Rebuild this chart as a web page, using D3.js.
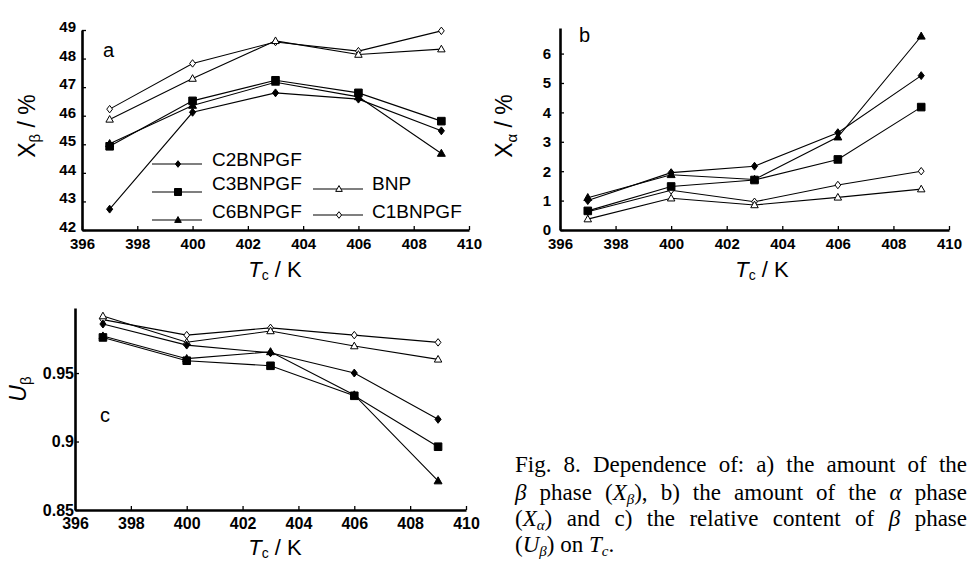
<!DOCTYPE html>
<html><head><meta charset="utf-8">
<script src="https://cdn.jsdelivr.net/npm/d3@7"></script>
<style>body{margin:0;background:#fff}svg{display:block}</style>
</head><body>
<svg id="chart" width="969" height="562"></svg>
<script>
// ---------- data ----------
const temps = [397, 400, 403, 406, 409];
const seriesNames = ["C2BNPGF", "C3BNPGF", "C6BNPGF", "BNP", "C1BNPGF"];
const xTickValues = [396, 398, 400, 402, 404, 406, 408, 410];
const aTickValues = [42, 43, 44, 45, 46, 47, 48, 49];
const bTickValues = [0, 1, 2, 3, 4, 5, 6];
const cTickValues = [0.85, 0.9, 0.95];
const cTickLabels = ["0.85", "0.9", "0.95"];

// panel a: X_beta / %
const xBetaC2 = [42.73, 46.12, 46.80, 46.58, 45.47];
const xBetaC3 = [44.93, 46.52, 47.24, 46.80, 45.81];
const xBetaC6 = [45.02, 46.36, 47.17, 46.66, 44.68];
const xBetaBNP = [45.87, 47.30, 48.62, 48.14, 48.33];
const xBetaC1 = [46.23, 47.83, 48.58, 48.26, 48.97];

// panel b: X_alpha / %
const xAlphaC2 = [1.00, 1.95, 2.17, 3.31, 5.25];
const xAlphaC3 = [0.65, 1.48, 1.70, 2.40, 4.18];
const xAlphaC6 = [1.10, 1.88, 1.72, 3.16, 6.59];
const xAlphaBNP = [0.37, 1.08, 0.85, 1.11, 1.39];
const xAlphaC1 = [0.62, 1.35, 0.96, 1.53, 2.00];

// panel c: U_beta
const uBetaC2 = [0.9858, 0.9704, 0.9648, 0.9500, 0.9162];
const uBetaC3 = [0.9760, 0.9590, 0.9553, 0.9334, 0.8962];
const uBetaC6 = [0.9770, 0.9605, 0.9655, 0.9340, 0.8712];
const uBetaBNP = [0.9916, 0.9725, 0.9807, 0.9697, 0.9600];
const uBetaC1 = [0.9890, 0.9777, 0.9830, 0.9777, 0.9724];

// ---------- helpers ----------
const svg = d3.select("#chart");
const SANS = "'Liberation Sans', Arial, sans-serif";
const SERIF = "'Liberation Serif', 'Times New Roman', serif";

const shapes = {
  C2BNPGF: {shape: "diamond", fill: "#000"},
  C3BNPGF: {shape: "square", fill: "#000"},
  C6BNPGF: {shape: "triangle", fill: "#000"},
  BNP: {shape: "triangle", fill: "#fff"},
  C1BNPGF: {shape: "diamond", fill: "#fff"}
};
function markerPath(shape, s) {
  if (shape === "diamond") return `M0,${-s*1.1}L${s*0.85},0L0,${s*1.1}L${-s*0.85},0Z`;
  if (shape === "square") return `M${-s},${-s}h${2*s}v${2*s}h${-2*s}Z`;
  return `M0,${-s*1.15}L${s*1.1},${s*0.8}L${-s*1.1},${s*0.8}Z`;
}
const drawOrder = ["C1BNPGF", "BNP", "C6BNPGF", "C2BNPGF", "C3BNPGF"];

function drawPanel(cfg) {
  const g = svg.append("g");
  const x = d3.scaleLinear().domain([396, 410]).range(cfg.xRange);
  const y = d3.scaleLinear().domain(cfg.yDomain).range(cfg.yRange);

  const xAxis = d3.axisBottom(x).tickValues(xTickValues).tickSizeInner(-4).tickSizeOuter(0).tickPadding(cfg.xPad).tickFormat(d3.format("d"));
  const gx = g.append("g").attr("transform", `translate(0,${cfg.yRange[0]})`).call(xAxis);
  const yAxis = d3.axisLeft(y).tickValues(cfg.yTicks).tickSizeInner(-4).tickSizeOuter(0).tickPadding(cfg.yPad)
    .tickFormat((d, i) => cfg.yLabels ? cfg.yLabels[i] : d);
  const gy = g.append("g").attr("transform", `translate(${cfg.xRange[0]},0)`).call(yAxis);

  [gx, gy].forEach(a => {
    a.select(".domain").attr("stroke", "#000").attr("stroke-width", 2.6);
    a.selectAll(".tick line").attr("stroke", "#000").attr("stroke-width", 1.3);
    a.selectAll(".tick text").attr("fill", "#000").attr("font-family", SANS)
      .attr("font-weight", "bold").attr("font-size", cfg.tickFont);
  });
  gy.selectAll(".tick text").attr("dy", cfg.yDy);

  const line = d3.line().x((d, i) => x(temps[i])).y(d => y(d));
  drawOrder.forEach(name => {
    const vals = cfg.data[name];
    g.append("path").attr("d", line(vals)).attr("fill", "none")
      .attr("stroke", "#000").attr("stroke-width", 1.1);
  });
  drawOrder.forEach(name => {
    const vals = cfg.data[name];
    const st = shapes[name];
    const s = st.shape === "square" ? 3.8 : (st.fill === "#fff" ? 3.4 : 3.6);
    g.selectAll(null).data(vals).enter().append("path")
      .attr("d", markerPath(st.shape, s))
      .attr("transform", (d, i) => `translate(${x(temps[i])},${y(d)})`)
      .attr("fill", st.fill).attr("stroke", "#000").attr("stroke-width", 1);
  });
  return {g, x, y};
}

// panel a
drawPanel({
  xRange: [82, 469], yDomain: [42, 49], yRange: [230, 30], yTicks: aTickValues,
  xPad: 8, yPad: 6, yDy: "0.1em", tickFont: 15,
  data: {C2BNPGF: xBetaC2, C3BNPGF: xBetaC3, C6BNPGF: xBetaC6, BNP: xBetaBNP, C1BNPGF: xBetaC1}
});
// panel b
drawPanel({
  xRange: [560, 949], yDomain: [0, 6.87], yRange: [230, 28], yTicks: bTickValues,
  xPad: 8, yPad: 9, yDy: "0.32em", tickFont: 15,
  data: {C2BNPGF: xAlphaC2, C3BNPGF: xAlphaC3, C6BNPGF: xAlphaC6, BNP: xAlphaBNP, C1BNPGF: xAlphaC1}
});
// panel c
drawPanel({
  xRange: [75, 466], yDomain: [0.85, 0.9975], yRange: [510, 308], yTicks: cTickValues, yLabels: cTickLabels,
  xPad: 8, yPad: 1, yDy: "0.32em", tickFont: 16,
  data: {C2BNPGF: uBetaC2, C3BNPGF: uBetaC3, C6BNPGF: uBetaC6, BNP: uBetaBNP, C1BNPGF: uBetaC1}
});

// panel letters
[["a", 103, 57], ["b", 579, 42], ["c", 100, 422]].forEach(([t, px, py]) => {
  svg.append("text").attr("x", px).attr("y", py).attr("font-family", SANS)
    .attr("font-size", 20).text(t);
});

// axis titles
function tcTitle(cx, by) {
  const t = svg.append("text").attr("x", cx).attr("y", by).attr("text-anchor", "middle")
    .attr("font-family", SANS).attr("font-size", 22);
  t.append("tspan").attr("font-style", "italic").text("T");
  t.append("tspan").attr("font-size", 14).attr("dy", 3).text("c");
  t.append("tspan").attr("dy", -3).text(" / K");
}
tcTitle(275, 277);
tcTitle(762, 277);
tcTitle(275, 555);

function yTitle(cx, cy, main, sub, rest, italic) {
  const t = svg.append("text").attr("transform", `translate(${cx},${cy}) rotate(-90)`)
    .attr("text-anchor", "middle").attr("font-family", SANS).attr("font-size", 23);
  t.append("tspan").attr("font-style", italic ? "italic" : "normal").text(main);
  t.append("tspan").attr("font-size", 15).attr("dy", 5).text(sub);
  if (rest) t.append("tspan").attr("dy", -5).text(rest);
}
yTitle(35, 126, "X", "β", " / %", false);
yTitle(512, 126, "X", "α", " / %", false);
yTitle(26, 389, "U", "β", null, true);

// legend (panel a)
const legendItems = [
  {name: "C2BNPGF", x1: 152, x2: 202, ly: 164, tx: 212, ty: 166},
  {name: "C3BNPGF", x1: 152, x2: 202, ly: 192, tx: 212, ty: 190},
  {name: "C6BNPGF", x1: 152, x2: 202, ly: 220, tx: 212, ty: 218},
  {name: "BNP", x1: 313, x2: 363, ly: 189, tx: 372, ty: 190},
  {name: "C1BNPGF", x1: 313, x2: 363, ly: 215, tx: 372, ty: 218}
];
legendItems.forEach(it => {
  svg.append("line").attr("x1", it.x1).attr("x2", it.x2).attr("y1", it.ly).attr("y2", it.ly)
    .attr("stroke", "#000").attr("stroke-width", 1.1);
  const st = shapes[it.name];
  svg.append("path").attr("d", markerPath(st.shape, st.shape === "square" ? 3.5 : 3))
    .attr("transform", `translate(${(it.x1 + it.x2) / 2 + 1},${it.ly})`)
    .attr("fill", st.fill).attr("stroke", "#000").attr("stroke-width", 1);
  svg.append("text").attr("x", it.tx).attr("y", it.ty).attr("font-family", SANS)
    .attr("font-size", 19).text(it.name);
});

// caption
const capX = 515, capW = 452;
const captionLines = [
  {y: 472, justify: true, parts: [["Fig. 8. Dependence of: a) the amount of the"]]},
  {y: 500, justify: true, parts: [["β", "i"], [" phase ("], ["X", "i"], ["β", "is"], ["), b) the amount of the "], ["α", "i"], [" phase"]]},
  {y: 526, justify: true, parts: [["("], ["X", "i"], ["α", "is"], [") and c) the relative content of "], ["β", "i"], [" phase"]]},
  {y: 552, justify: false, parts: [["("], ["U", "i"], ["β", "is"], [") on "], ["T", "i"], ["c", "is"], ["."]]}
];
captionLines.forEach(l => {
  const t = svg.append("text").attr("x", capX).attr("y", l.y).attr("font-family", SERIF)
    .attr("font-size", 23).attr("fill", "#000");
  let sub = false;
  l.parts.forEach(([txt, fl]) => {
    const sp = t.append("tspan").text(txt);
    if (fl && fl.includes("i")) sp.attr("font-style", "italic");
    if (fl && fl.includes("s")) {
      sp.attr("font-size", 15).attr("dy", 4); sub = true;
    } else if (sub) { sp.attr("dy", -4); sub = false; }
  });
  if (l.justify) {
    const len = t.node().getComputedTextLength();
    const full = l.parts.map(p => p[0]).join("");
    const n = (full.match(/ /g) || []).length;
    if (n > 0) t.attr("word-spacing", (capW - len) / n);
  }
});
</script>
</body></html>
